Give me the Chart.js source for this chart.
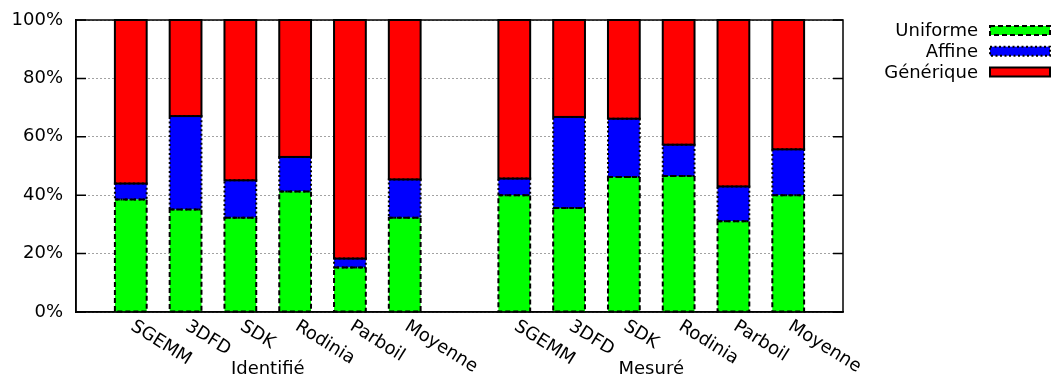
<!DOCTYPE html>
<html>
<head>
<meta charset="utf-8">
<script src="https://cdn.jsdelivr.net/npm/chart.js@4"></script>
<style>
  html, body { margin: 0; padding: 0; background: #fff; }
  #wrap { width: 1057px; height: 379px; position: relative; }
</style>
</head>
<body>
<div id="wrap"><canvas id="c" width="1057" height="379"></canvas></div>
<script>
// Benchmarks, shown once per group
const benchmarks = ['SGEMM', '3DFD', 'SDK', 'Rodinia', 'Parboil', 'Moyenne'];
const groups = ['Identifié', 'Mesuré'];
const yTicks = [0, 20, 40, 60, 80, 100];
const seriesNames = ['Uniforme', 'Affine', 'Générique'];

// Share of each access class (%), per benchmark
const uniformeIdentifie  = [38.5, 35.1, 32.3, 41.3, 15.2, 32.3];
const affineIdentifie    = [5.5, 32.0, 12.8, 11.8, 3.1, 13.1];
const generiqueIdentifie = [56.0, 32.9, 54.9, 46.9, 81.7, 54.6];

const uniformeMesure  = [40.0, 35.6, 46.2, 46.6, 31.1, 40.0];
const affineMesure    = [5.7, 31.2, 20.0, 10.7, 11.9, 15.7];
const generiqueMesure = [54.3, 33.2, 33.8, 42.7, 57.0, 44.3];

// Two histogram groups separated by an empty slot, with an empty slot at each end
const labels = ['', ...benchmarks, '', ...benchmarks, ''];
const join = (a, b) => [null, ...a, null, ...b, null];

const FONT = '"DejaVu Sans", "Liberation Sans", sans-serif';
const fills = ['#00ff00', '#0000ff', '#ff0000'];
const dashes = [[5, 3], [2, 2.5], []];

const data = {
  labels,
  datasets: [
    { label: seriesNames[0], data: join(uniformeIdentifie, uniformeMesure), backgroundColor: fills[0] },
    { label: seriesNames[1], data: join(affineIdentifie, affineMesure), backgroundColor: fills[1] },
    { label: seriesNames[2], data: join(generiqueIdentifie, generiqueMesure), backgroundColor: fills[2] }
  ]
};

// Outlines of each bar segment (dashed / dotted / solid)
const barOutlines = {
  id: 'barOutlines',
  afterDatasetsDraw(chart) {
    const ctx = chart.ctx;
    chart.data.datasets.forEach((ds, i) => {
      const meta = chart.getDatasetMeta(i);
      ctx.save();
      ctx.lineWidth = 2;
      ctx.strokeStyle = '#000';
      ctx.setLineDash(dashes[i]);
      meta.data.forEach((bar, j) => {
        if (ds.data[j] == null) return;
        const p = bar.getProps(['x', 'y', 'base', 'width'], true);
        ctx.strokeRect(p.x - p.width / 2, Math.min(p.y, p.base), p.width, Math.abs(p.base - p.y));
      });
      ctx.restore();
    });
  }
};

// Plot frame, inward tick marks, rotated benchmark names, group titles and key
const decorations = {
  id: 'decorations',
  afterDraw(chart) {
    const ctx = chart.ctx;
    const a = chart.chartArea;
    const xs = chart.scales.x;
    const ys = chart.scales.y;
    ctx.save();
    ctx.strokeStyle = '#000';
    ctx.lineWidth = 1.5;
    ctx.setLineDash([]);
    ctx.strokeRect(a.left, a.top, a.right - a.left, a.bottom - a.top);
    ctx.beginPath();
    yTicks.forEach(v => {
      const y = ys.getPixelForValue(v);
      ctx.moveTo(a.left, y); ctx.lineTo(a.left + 10, y);
      ctx.moveTo(a.right, y); ctx.lineTo(a.right - 10, y);
    });
    ctx.stroke();

    // benchmark names, rotated clockwise
    ctx.fillStyle = '#000';
    ctx.font = '18px ' + FONT;
    ctx.textAlign = 'left';
    ctx.textBaseline = 'alphabetic';
    labels.forEach((t, i) => {
      if (!t) return;
      const x = xs.getPixelForValue(i) - 1;
      ctx.save();
      ctx.translate(x, a.bottom + 17);
      ctx.rotate(32 * Math.PI / 180);
      ctx.fillText(t, 0, 0);
      ctx.restore();
    });

    // group titles centred under each group
    ctx.textAlign = 'center';
    groups.forEach((g, k) => {
      const first = 1 + k * (benchmarks.length + 1);
      const last = first + benchmarks.length - 1;
      const cx = (xs.getPixelForValue(first) + xs.getPixelForValue(last)) / 2;
      ctx.fillText(g, cx, a.bottom + 62);
    });

    // key: right-aligned text with a sample box after it
    const rowY = [30.5, 51.2, 72];
    ctx.textAlign = 'right';
    ctx.textBaseline = 'middle';
    seriesNames.forEach((n, i) => {
      const cy = rowY[i];
      ctx.fillStyle = '#000';
      ctx.fillText(n, 978, cy + 1);
      ctx.fillStyle = fills[i];
      ctx.fillRect(990, cy - 4.5, 60, 9);
      ctx.lineWidth = 2;
      ctx.strokeStyle = '#000';
      ctx.setLineDash(dashes[i]);
      ctx.strokeRect(990, cy - 4.5, 60, 9);
    });
    ctx.restore();
  }
};

new Chart(document.getElementById('c'), {
  type: 'bar',
  data,
  options: {
    responsive: false,
    devicePixelRatio: 1,
    animation: false,
    layout: { padding: { top: 20, right: 214, left: 0, bottom: 0 } },
    datasets: {
      bar: { categoryPercentage: 1, barPercentage: 0.58, borderWidth: 0 }
    },
    plugins: { legend: { display: false }, tooltip: { enabled: false } },
    scales: {
      x: {
        type: 'category',
        stacked: true,
        offset: false,
        grid: { display: false, drawTicks: false },
        ticks: { display: false },
        border: { display: true, color: '#000', width: 1.5 },
        afterFit(scale) { scale.height = 67; }
      },
      y: {
        stacked: true,
        min: 0,
        max: 100,
        ticks: {
          stepSize: 20,
          padding: 13,
          color: '#000',
          font: { family: FONT, size: 18 },
          callback: v => v + '%'
        },
        grid: { color: '#444', lineWidth: 1, drawTicks: false },
        border: { display: true, color: '#000', width: 1.5, dash: [1, 3] },
        afterFit(scale) {
          scale.width = 76;
          scale.paddingTop = 0;
          scale.paddingBottom = 0;
        }
      }
    }
  },
  plugins: [barOutlines, decorations]
});
</script>
</body>
</html>
